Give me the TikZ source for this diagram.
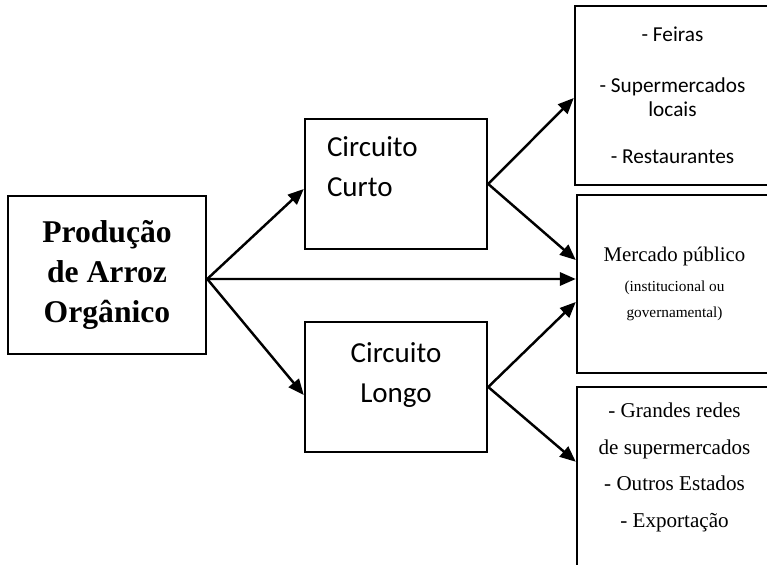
\documentclass[tikz,border=0pt]{standalone}
\usepackage{fontspec}
\setmainfont{Liberation Serif}
\newfontfamily\calibri{Carlito}
\usetikzlibrary{positioning,arrows.meta}
\tikzset {
caixa/.style={shape=rectangle,draw,line width=1.4pt,inner sep=0pt},
texto/.style={inner sep=0pt,align=center}
}
\newcommand{\pequeno}{\fontsize{8.7}{15.3}\selectfont}

\begin{document}
\begin{tikzpicture}
[>={Triangle[length=9pt,width=7.5pt]},line width=1.4pt]
\useasboundingbox (0,0) rectangle (15.34,-11.3);
\clip (0,0) rectangle (15.34,-11.3);
\node[caixa,minimum width=3.96cm,minimum height=3.16cm,align=center,font=\fontsize{18}{22.7}\selectfont\bfseries] (producao) at (2.14,-5.5) {Produção\\de Arroz\\Orgânico};
\node[caixa,minimum width=3.64cm,minimum height=2.6cm] (curto) at (7.92,-3.68) {};
\node[caixa,minimum width=3.64cm,minimum height=2.6cm] (longo) at (7.92,-7.74) {};
\node[texto,align=left,font=\calibri\fontsize{16.5}{22.7}\selectfont] (curto texto) [below right=0.36cm and 0.44cm of curto.north west] {Circuito\\Curto};
\node[texto,font=\calibri\fontsize{16.5}{22.7}\selectfont] (longo texto) [below=0.42cm of longo.north] {Circuito\\Longo};
\node[caixa,minimum width=3.9cm,minimum height=3.58cm,align=center,font=\calibri\fontsize{12.1}{13.6}\selectfont] (feiras) at (13.45,-1.91) {- Feiras\\[15.3pt]- Supermercados\\locais\\[13.6pt]- Restaurantes};
\node[caixa,minimum width=3.9cm,minimum height=3.56cm,align=center,font=\fontsize{11.85}{15.3}\selectfont] (mercado) at (13.49,-5.68) {Mercado público\\[1.7pt]\pequeno(institucional ou\\\pequeno governamental)};
\node[caixa,minimum width=3.9cm,minimum height=4.26cm] (grandes) at (13.49,-9.87) {};
\node[texto,font=\fontsize{12}{20.8}\selectfont] (grandes texto) [below=0.32cm of grandes.north] {- Grandes redes\\de supermercados\\- Outros Estados\\- Exportação};

\draw[->] ([yshift=-0.08cm]producao.east) -- ([yshift=-0.1cm]curto.west);
\draw[->] ([yshift=-0.08cm]producao.east) -- ([yshift=-0.16cm]longo.west);
\draw[->] ([yshift=-0.08cm]producao.east) -- ([yshift=0.1cm]mercado.west);
\draw[->] (curto.east) -- ([yshift=-0.05cm]feiras.west);
\draw[->] (curto.east) -- ([yshift=0.48cm]mercado.west);
\draw[->] (longo.east) -- ([yshift=-0.36cm]mercado.west);
\draw[->] (longo.east) -- ([yshift=-1.52cm]grandes.north west);
\end{tikzpicture}
\end{document}
